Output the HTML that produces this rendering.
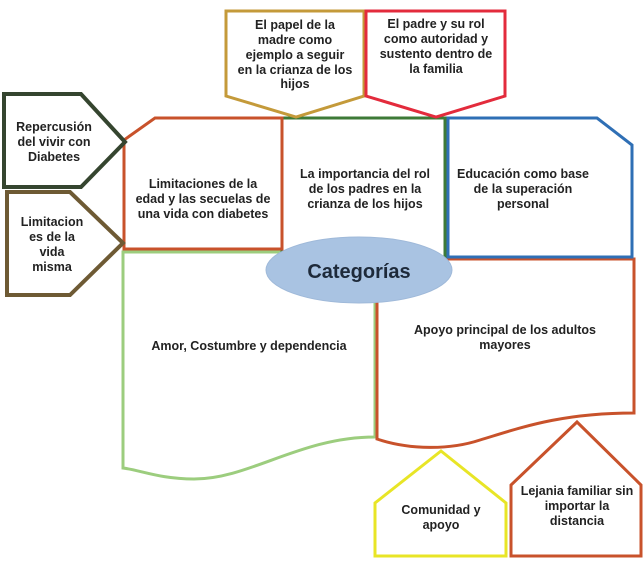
<!DOCTYPE html>
<html><head><meta charset="utf-8"><style>
body{margin:0;background:#fff}
svg{display:block}
text{font-family:"Liberation Sans",Arial,sans-serif;font-weight:bold;font-size:12.5px;fill:#222;text-anchor:middle}
</style></head><body>
<svg width="643" height="561" viewBox="0 0 643 561" xmlns="http://www.w3.org/2000/svg">
<g fill="none" stroke-width="3" stroke-linejoin="miter">
<!-- light green doc -->
<path d="M123,252 L375,252 L375,437 C300,437 250,479 194,479 C160,479 140,470 123,468 Z" stroke="#9ccd7e"/>
<!-- orange doc -->
<path d="M377,259 L634,259 L634,413 C560,413 520,428 480,440 C450,450 410,450 377,439 Z" stroke="#c8522b"/>
<!-- green box -->
<path d="M282,118 L445,118 L445,258 L282,258 Z" stroke="#3d7a37"/>
<!-- orange limitaciones -->
<path d="M155,118 L282,118 L282,249 L124,249 L124,140 Z" stroke="#c8522b" fill="#fff"/>
<!-- blue -->
<path d="M448,118 L597,118 L632,145 L632,257 L448,257 Z" stroke="#2f6fb5" fill="#fff"/>
<!-- gold -->
<path d="M226,11 L364,11 L364,96 L296,117 L226,96 Z" stroke="#c49a3a" fill="#fff"/>
<!-- red -->
<path d="M366,11 L505,11 L505,96 L436,117 L366,96 Z" stroke="#e32b3c" fill="#fff"/>
<!-- dark green arrow -->
<path d="M4,94 L81,94 L125,142 L81,187 L4,187 Z" stroke="#35452f" stroke-width="4" fill="#fff"/>
<!-- brown arrow -->
<path d="M7,192 L70,192 L123,243 L70,295 L7,295 Z" stroke="#6e5a34" stroke-width="4" fill="#fff"/>
<!-- yellow house -->
<path d="M441,451 L506,503 L506,556 L375,556 L375,503 Z" stroke="#e8e526" fill="#fff"/>
<!-- orange house -->
<path d="M577,422 L641,485 L641,556 L511,556 L511,485 Z" stroke="#c8522b" fill="#fff"/>
</g>
<ellipse cx="359" cy="270" rx="93" ry="33" fill="#a9c3e2" stroke="#9fb9d9"/>
<text x="359" y="278" style="font-size:20px;fill:#1e2a3a">Categorías</text>

<text x="295" y="29">El papel de la</text>
<text x="295" y="44">madre como</text>
<text x="295" y="59">ejemplo a seguir</text>
<text x="295" y="74">en la crianza de los</text>
<text x="295" y="88">hijos</text>

<text x="436" y="28">El padre y su rol</text>
<text x="436" y="43">como autoridad y</text>
<text x="436" y="58">sustento dentro de</text>
<text x="436" y="73">la familia</text>

<text x="54" y="131">Repercusión</text>
<text x="54" y="146">del vivir con</text>
<text x="54" y="161">Diabetes</text>

<text x="52" y="226">Limitacion</text>
<text x="52" y="241">es de la</text>
<text x="52" y="256">vida</text>
<text x="52" y="271">misma</text>

<text x="203" y="188">Limitaciones de la</text>
<text x="203" y="203">edad y las secuelas de</text>
<text x="203" y="218">una vida con diabetes</text>

<text x="365" y="178">La importancia del rol</text>
<text x="365" y="193">de los padres en la</text>
<text x="365" y="208">crianza de los hijos</text>

<text x="523" y="178">Educación como base</text>
<text x="523" y="193">de la superación</text>
<text x="523" y="208">personal</text>

<text x="249" y="350">Amor, Costumbre y dependencia</text>

<text x="505" y="334">Apoyo principal de los adultos</text>
<text x="505" y="349">mayores</text>

<text x="441" y="514">Comunidad y</text>
<text x="441" y="529">apoyo</text>

<text x="577" y="495">Lejania familiar sin</text>
<text x="577" y="510">importar la</text>
<text x="577" y="525">distancia</text>
</svg>
</body></html>
